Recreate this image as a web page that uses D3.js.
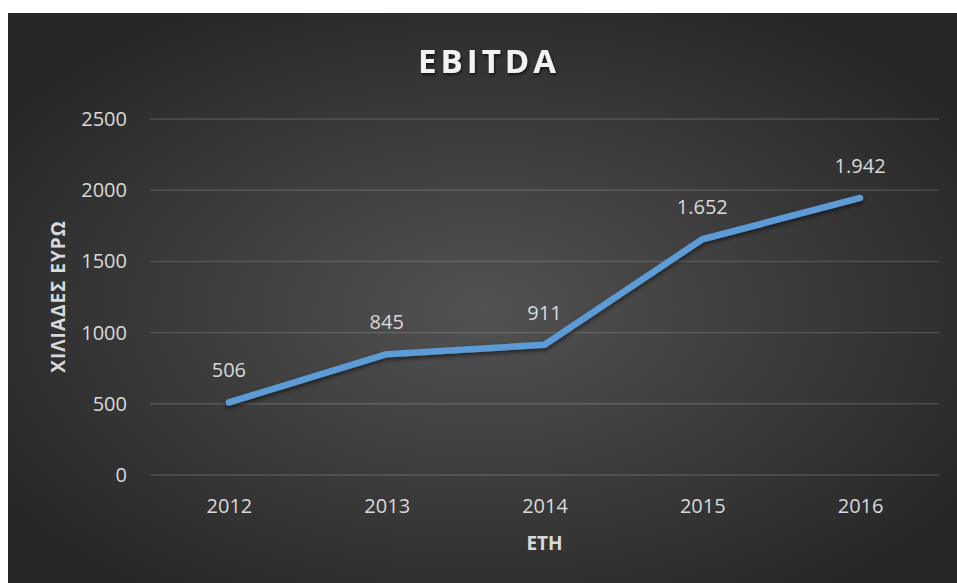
<!DOCTYPE html>
<html><head><meta charset="utf-8">
<script src="https://cdn.jsdelivr.net/npm/d3@7"></script>
<style>html,body{margin:0;padding:0;background:#fff;}svg{display:block;}</style>
</head><body>
<svg id="chart" width="957" height="583"></svg>
<script>
const years = ["2012","2013","2014","2015","2016"];
const ebitda = [506, 845, 911, 1652, 1942];
const yTicks = [0, 500, 1000, 1500, 2000, 2500];
const chartTitle = "EBITDA";
const yTitle = "ΧΙΛΙΑΔΕΣ ΕΥΡΩ";
const xTitle = "ΕΤΗ";

const svg = d3.select("#chart");
const W = 957, H = 583;
const box = {x: 8, y: 13, w: W - 8, h: H - 13};
const plot = {left: 150, right: 939, top: 118.5, bottom: 474.5};

const defs = svg.append("defs");
const rg = defs.append("radialGradient").attr("id","bg")
  .attr("cx","50%").attr("cy","52%").attr("r","62%");
rg.append("stop").attr("offset","0%").attr("stop-color","#525252");
rg.append("stop").attr("offset","100%").attr("stop-color","#262626");
const f = defs.append("filter").attr("id","shadow").attr("x","-10%").attr("y","-10%").attr("width","120%").attr("height","130%");
f.append("feDropShadow").attr("dx",0).attr("dy",2.5).attr("stdDeviation",2).attr("flood-color","#000").attr("flood-opacity",0.55);
const ft = defs.append("filter").attr("id","tshadow").attr("x","-10%").attr("y","-20%").attr("width","120%").attr("height","150%");
ft.append("feDropShadow").attr("dx",1).attr("dy",2).attr("stdDeviation",1.5).attr("flood-color","#000").attr("flood-opacity",0.6);

svg.append("rect").attr("x",box.x).attr("y",box.y).attr("width",box.w).attr("height",box.h).attr("fill","url(#bg)");

const x = d3.scalePoint().domain(years).range([plot.left, plot.right]).padding(0.5);
const y = d3.scaleLinear().domain([0, 2500]).range([plot.bottom, plot.top]);
const fmt = d3.formatLocale({decimal:",", thousands:".", grouping:[3], currency:["","€"]}).format(",d");

const font = "'Open Sans', 'Noto Sans', sans-serif";
const txt = "#d9d9d9";

// gridlines
const yAxis = d3.axisLeft(y).tickValues(yTicks).tickSize(-(plot.right - plot.left)).tickPadding(23).tickFormat(d3.format("d"));
const gy = svg.append("g").attr("transform",`translate(${plot.left},0)`).call(yAxis);
gy.select(".domain").remove();
gy.selectAll(".tick line").attr("stroke","rgba(255,255,255,0.15)").attr("stroke-width",1.4);
gy.selectAll(".tick text").attr("fill",txt).attr("font-family",font).attr("font-size",20).attr("dy","0.35em");

const xAxis = d3.axisBottom(x).tickSize(0).tickPadding(24);
const gx = svg.append("g").attr("transform",`translate(0,${plot.bottom})`).call(xAxis);
gx.select(".domain").remove();
gx.selectAll(".tick text").attr("fill",txt).attr("font-family",font).attr("font-size",20);

// line
const line = d3.line().x((d,i)=>x(years[i])).y(d=>y(d));
svg.append("path").datum(ebitda).attr("d",line).attr("fill","none")
  .attr("stroke","#5b9bd5").attr("stroke-width",6.5).attr("stroke-linecap","round").attr("stroke-linejoin","round")
  .attr("filter","url(#shadow)");

// data labels
svg.append("g").selectAll("text").data(ebitda).join("text")
  .attr("x",(d,i)=>x(years[i])).attr("y",d=>y(d) - 25)
  .attr("text-anchor","middle").attr("fill",txt).attr("font-family",font).attr("font-size",20)
  .text(d=>fmt(d));

// titles
svg.append("text").attr("x",487 + 2).attr("y",73).attr("text-anchor","middle")
  .attr("fill","#f2f2f2").attr("font-family",font).attr("font-weight","bold").attr("font-size",33)
  .attr("letter-spacing","4px").attr("filter","url(#tshadow)").text(chartTitle);

svg.append("text").attr("x",(plot.left+plot.right)/2).attr("y",550).attr("text-anchor","middle")
  .attr("fill",txt).attr("font-family",font).attr("font-weight","bold").attr("font-size",19).text(xTitle);

svg.append("text").attr("transform",`translate(65,${(plot.top+plot.bottom)/2}) rotate(-90)`).attr("text-anchor","middle")
  .attr("fill",txt).attr("font-family",font).attr("font-weight","bold").attr("font-size",19)
  .attr("letter-spacing","1px").text(yTitle);
</script>
</body></html>
